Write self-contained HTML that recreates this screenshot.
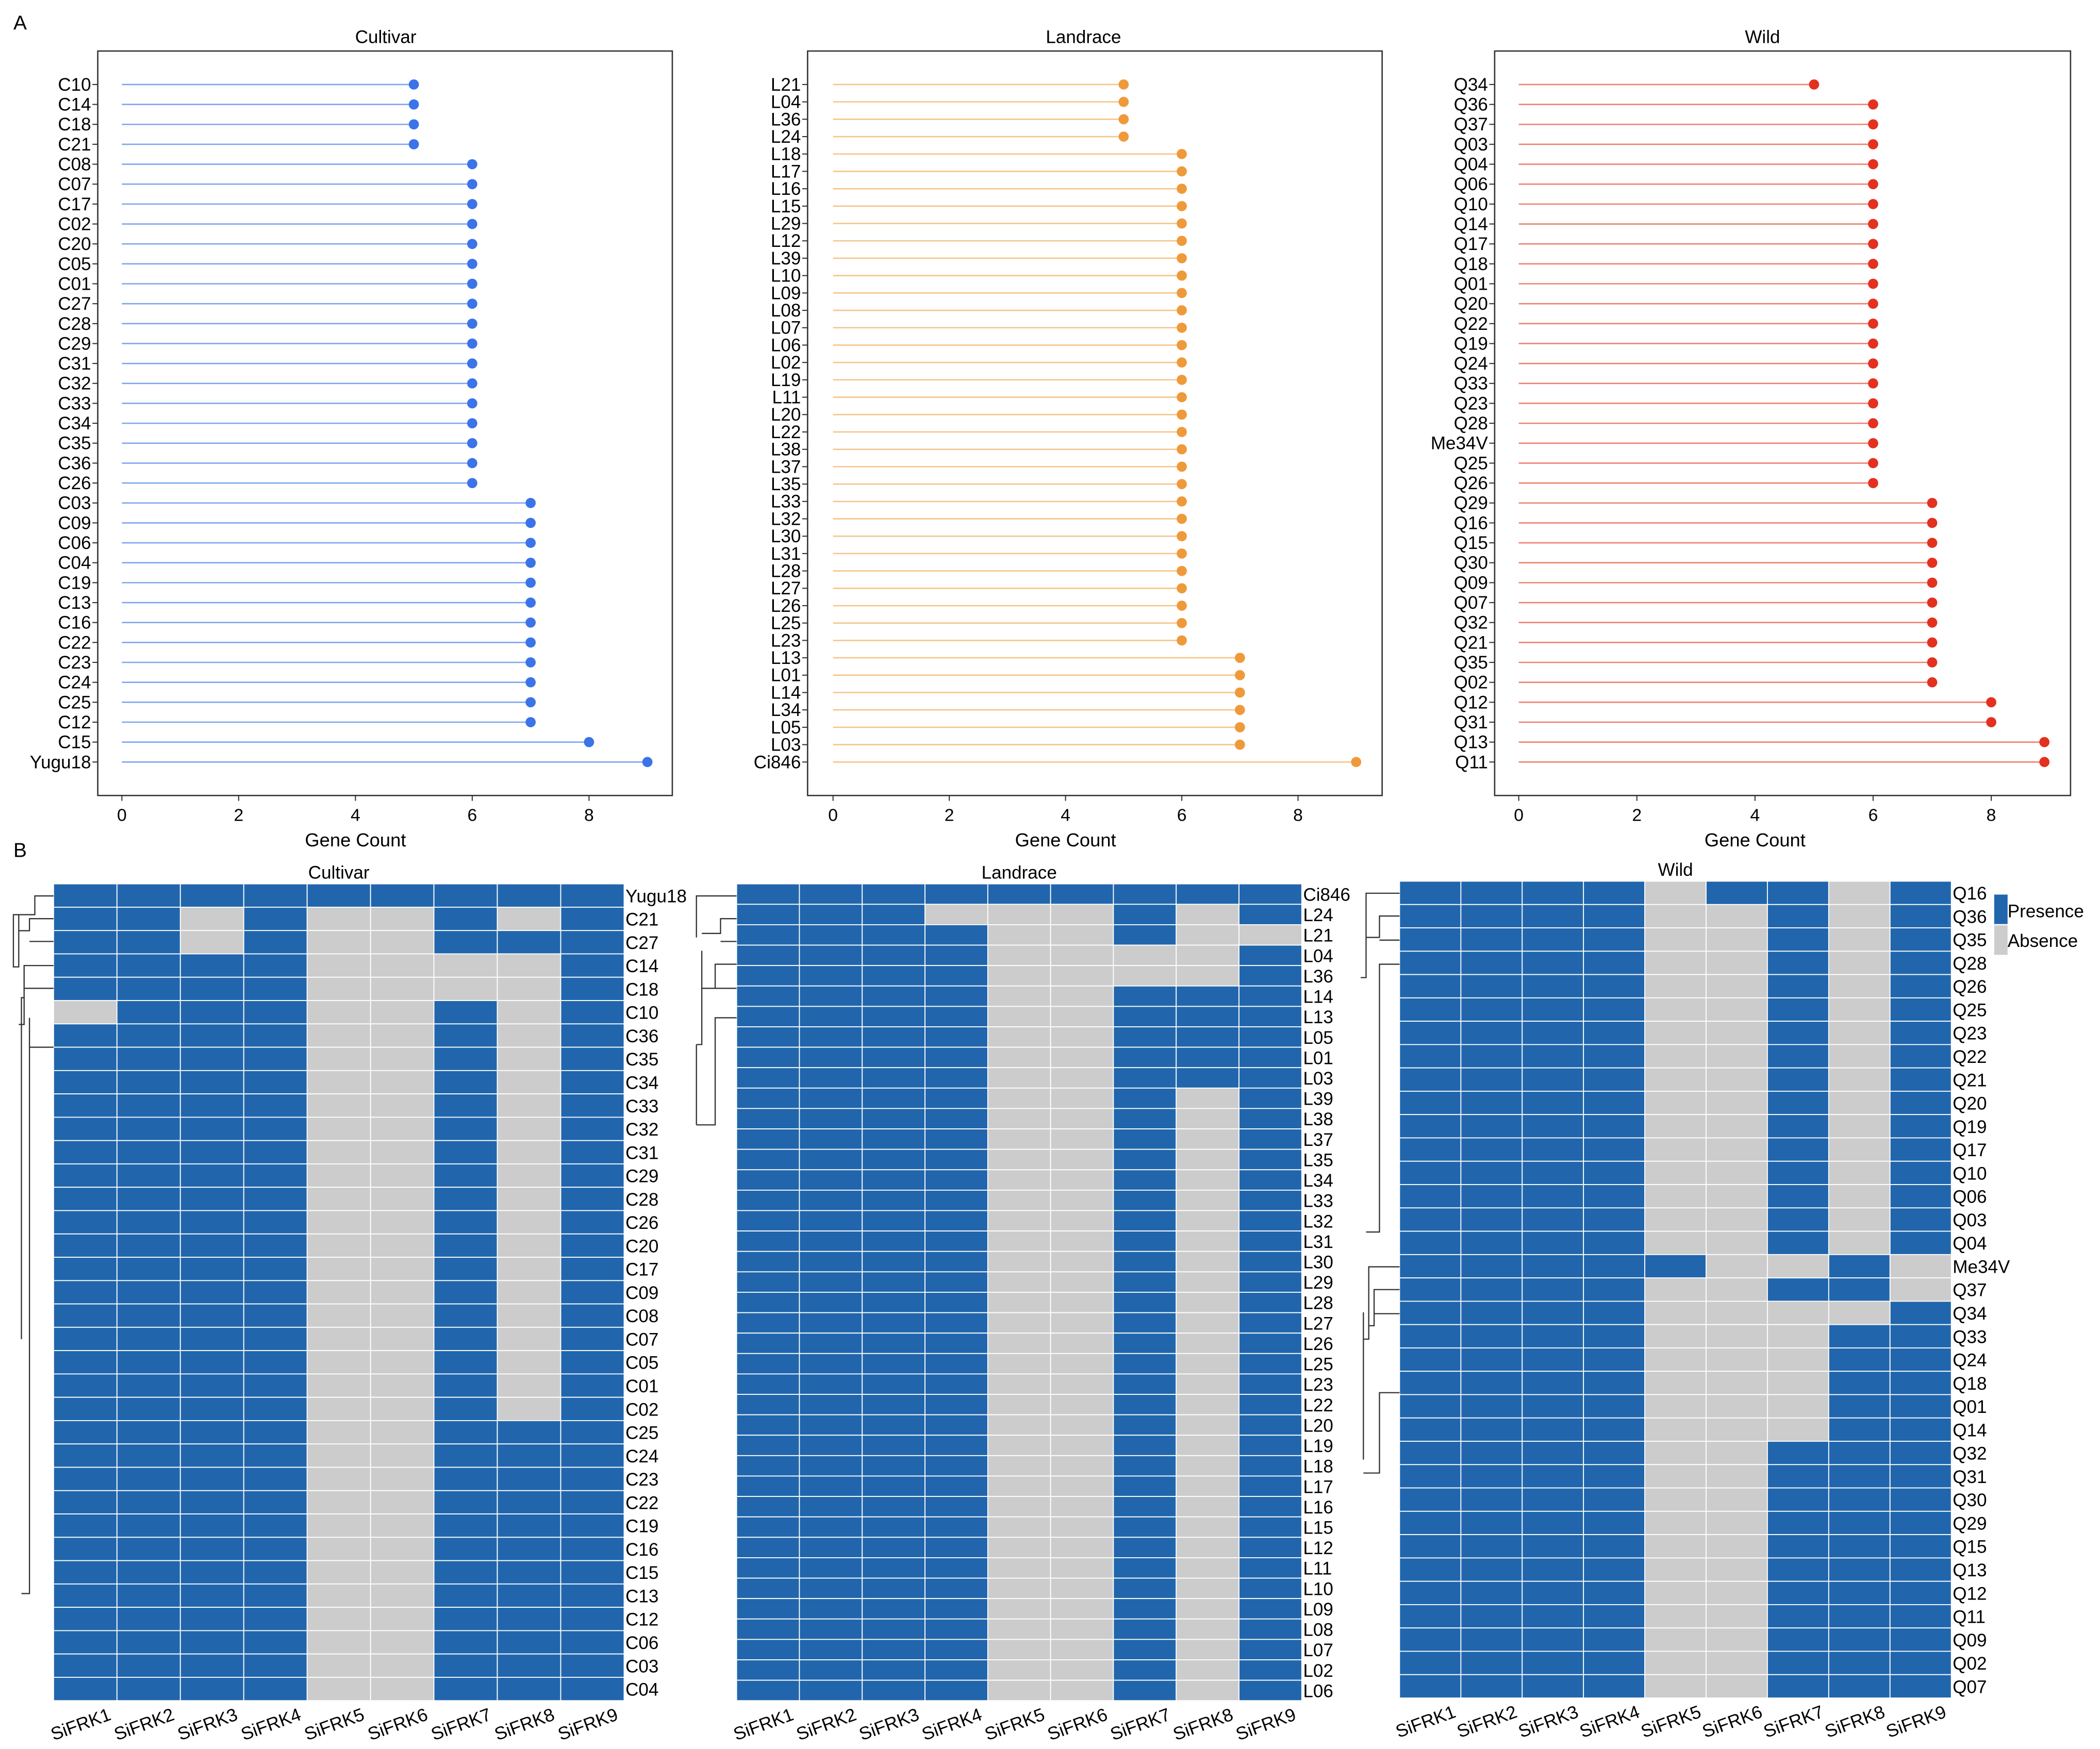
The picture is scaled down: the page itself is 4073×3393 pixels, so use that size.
<!DOCTYPE html>
<html><head><meta charset="utf-8"><style>
html,body{margin:0;padding:0;background:#fff;}
svg{display:block;font-family:"Liberation Sans",Arial,sans-serif;}
</style></head><body>
<svg id="fig" width="4073" height="3393" viewBox="0 0 1568 1306" xmlns="http://www.w3.org/2000/svg">
<rect width="1568" height="1306" fill="#fff"/>
<text x="10" y="22" font-size="15">A</text>
<text x="10" y="640" font-size="15">B</text>
<g id="gA"></g><g id="gB"></g>
<g>
<rect x="1489" y="668" width="10" height="22" fill="#2166ac"/>
<rect x="1489" y="691" width="10" height="22" fill="#cccccc"/>
<text x="1499" y="685" font-size="13.5">Presence</text>
<text x="1499" y="707" font-size="13.5">Absence</text>
</g>
<g stroke="#333" stroke-width="0.9" fill="none">
<path d="M40,669 H26 V683 H10 V722 H14 V683 M40,686 H26 M40,686 H22 V695 H14 M40,703 H22 M40,721 H18 V765 H14 M40,738 H18 M18,745 H16 V1000 M40,782 H22 V1190 H16 M22,760 V800"/>
<path d="M550,669 H520 V700 M550,686 H538 V697 H524 M550,703 H538 M550,720 H534 V738 H524 M550,738 H534 M524,710 V780 H520 M550,760 H534 V840 H520 M520,780 V840"/>
<path d="M1045,667 H1020 V730 H1016 M1045,684 H1030 V700 H1020 M1045,702 H1030 M1045,720 H1030 V920 H1020 M1045,946 H1022 V1000 H1018 M1045,963 H1026 V990 H1022 M1045,981 H1026 M1018,980 V1020 M1045,1040 H1030 V1100 H1018 M1018,1020 V1090"/>
</g>
</svg>
<script>
const NS="http://www.w3.org/2000/svg";
function mk(p,tag,at,txt){const e=document.createElementNS(NS,tag);for(const k in at)e.setAttribute(k,at[k]);if(txt!=null)e.textContent=txt;p.appendChild(e);return e;}

// ---- Panel A data ----
const cultLabels=["C10","C14","C18","C21","C08","C07","C17","C02","C20","C05","C01","C27","C28","C29","C31","C32","C33","C34","C35","C36","C26","C03","C09","C06","C04","C19","C13","C16","C22","C23","C24","C25","C12","C15","Yugu18"];
const cultValues=[5,5,5,5,6,6,6,6,6,6,6,6,6,6,6,6,6,6,6,6,6,7,7,7,7,7,7,7,7,7,7,7,7,8,9];
const landLabels=["L21","L04","L36","L24","L18","L17","L16","L15","L29","L12","L39","L10","L09","L08","L07","L06","L02","L19","L11","L20","L22","L38","L37","L35","L33","L32","L30","L31","L28","L27","L26","L25","L23","L13","L01","L14","L34","L05","L03","Ci846"];
const landValues=[5,5,5,5,6,6,6,6,6,6,6,6,6,6,6,6,6,6,6,6,6,6,6,6,6,6,6,6,6,6,6,6,6,7,7,7,7,7,7,9];
const wildLabels=["Q34","Q36","Q37","Q03","Q04","Q06","Q10","Q14","Q17","Q18","Q01","Q20","Q22","Q19","Q24","Q33","Q23","Q28","Me34V","Q25","Q26","Q29","Q16","Q15","Q30","Q09","Q07","Q32","Q21","Q35","Q02","Q12","Q31","Q13","Q11"];
const wildValues=[5,6,6,6,6,6,6,6,6,6,6,6,6,6,6,6,6,6,6,6,6,7,7,7,7,7,7,7,7,7,7,8,8,8.9,8.9];
const xTicks=[0,2,4,6,8];

const lolli=[
 {name:"cultivar",title:"Cultivar",tx:288,labels:cultLabels,values:cultValues,x0:73,x1:502,z:91,unit:43.6,line:"#7ea4f0",dot:"#3b73e8"},
 {name:"landrace",title:"Landrace",tx:809,labels:landLabels,values:landValues,x0:603,x1:1032,z:622,unit:43.4,line:"#f5c48a",dot:"#ef9a3a"},
 {name:"wild",title:"Wild",tx:1316,labels:wildLabels,values:wildValues,x0:1116,x1:1546,z:1134,unit:44.1,line:"#ee8070",dot:"#e4311f"}
];
const gA=document.getElementById("gA");
lolli.forEach(P=>{
 const g=mk(gA,"g",{});
 
 
 const y0=63,y1=569,n=P.labels.length,step=(y1-y0)/(n-1);
 const xs=v=>P.z+v*P.unit, ys=i=>y0+i*step;
 const fr=mk(g,"rect",{x:P.x0,y:38,width:P.x1-P.x0,height:556,fill:"none",stroke:"#333","stroke-width":1});
 
 
 const t=mk(g,"text",{x:P.tx,y:32,"font-size":13.5,"text-anchor":"middle"},P.title);
 
 
 P.labels.forEach((lab,i)=>{
  const y=ys(i);
  const l=mk(g,"line",{x1:xs(0),x2:xs(P.values[i]),y1:y,y2:y,stroke:P.line,"stroke-width":1});
  
  
  const c=mk(g,"circle",{cx:xs(P.values[i]),cy:y,r:3.8,fill:P.dot});
  
  
  const tk=mk(g,"line",{x1:P.x0-4,x2:P.x0,y1:y,y2:y,stroke:"#333","stroke-width":0.8});
  
  
  const tl=mk(g,"text",{x:P.x0-5,y:y+4.6,"font-size":13.5,"text-anchor":"end"},lab);
  
  
 });
 xTicks.forEach(v=>{
  const tk=mk(g,"line",{x1:xs(v),x2:xs(v),y1:594,y2:598,stroke:"#333","stroke-width":0.8});
  
  
  const tl=mk(g,"text",{x:xs(v),y:613,"font-size":13,"text-anchor":"middle"},String(v));
  
  
 });
 const xt=mk(g,"text",{x:xs(4),y:632,"font-size":14,"text-anchor":"middle"},"Gene Count");
 
 
});

// ---- Panel B data ----
const genes=["SiFRK1","SiFRK2","SiFRK3","SiFRK4","SiFRK5","SiFRK6","SiFRK7","SiFRK8","SiFRK9"];
const cultRows=["Yugu18","C21","C27","C14","C18","C10","C36","C35","C34","C33","C32","C31","C29","C28","C26","C20","C17","C09","C08","C07","C05","C01","C02","C25","C24","C23","C22","C19","C16","C15","C13","C12","C06","C03","C04"];
const cultMatrix=["111111111","110100101","110100111","111100001","111100001","011100101"].concat(Array(17).fill("111100101")).concat(Array(12).fill("111100111"));
const landRows=["Ci846","L24","L21","L04","L36","L14","L13","L05","L01","L03","L39","L38","L37","L35","L34","L33","L32","L31","L30","L29","L28","L27","L26","L25","L23","L22","L20","L19","L18","L17","L16","L15","L12","L11","L10","L09","L08","L07","L02","L06"];
const landMatrix=["111111111","111000101","111100100","111100001","111100001"].concat(Array(5).fill("111100111")).concat(Array(30).fill("111100101"));
const wildRows=["Q16","Q36","Q35","Q28","Q26","Q25","Q23","Q22","Q21","Q20","Q19","Q17","Q10","Q06","Q03","Q04","Me34V","Q37","Q34","Q33","Q24","Q18","Q01","Q14","Q32","Q31","Q30","Q29","Q15","Q13","Q12","Q11","Q09","Q02","Q07"];
const wildMatrix=["111101101"].concat(Array(15).fill("111100101")).concat(["111110010","111100110","111100001"]).concat(Array(5).fill("111100011")).concat(Array(11).fill("111100111"));

const heats=[
 {name:"cultivar",title:"Cultivar",rows:cultRows,m:cultMatrix,x0:40,x1:466,y0:660,y1:1270},
 {name:"landrace",title:"Landrace",rows:landRows,m:landMatrix,x0:550,x1:972,y0:660,y1:1270},
 {name:"wild",title:"Wild",rows:wildRows,m:wildMatrix,x0:1045,x1:1457,y0:658,y1:1268}
];
const gB=document.getElementById("gB");
heats.forEach(H=>{
 const g=mk(gB,"g",{});
 
 
 const cw=(H.x1-H.x0)/genes.length, rh=(H.y1-H.y0)/H.rows.length;
 const t=mk(g,"text",{x:(H.x0+H.x1)/2,y:H.y0-4,"font-size":13.5,"text-anchor":"middle"},H.title);
 
 
 H.rows.forEach((r,i)=>{
  for(let j=0;j<genes.length;j++){
   const on=H.m[i][j]==="1";
   const c=mk(g,"rect",{x:H.x0+j*cw,y:H.y0+i*rh,width:cw,height:rh,fill:on?"#2166ac":"#cccccc",stroke:"#fff","stroke-width":0.7});
   
   
  }
  const tl=mk(g,"text",{x:H.x1+1,y:H.y0+(i+0.5)*rh+5,"font-size":13.5},r);
  
  
 });
 genes.forEach((gn,j)=>{
  const cx=H.x0+(j+0.5)*cw;
  const tl=mk(g,"text",{x:cx+20,y:H.y1+14,"font-size":13.5,"text-anchor":"end",transform:`rotate(-20 ${cx+20} ${H.y1+14})`},gn);
  
  
 });
});
</script>
</body></html>
